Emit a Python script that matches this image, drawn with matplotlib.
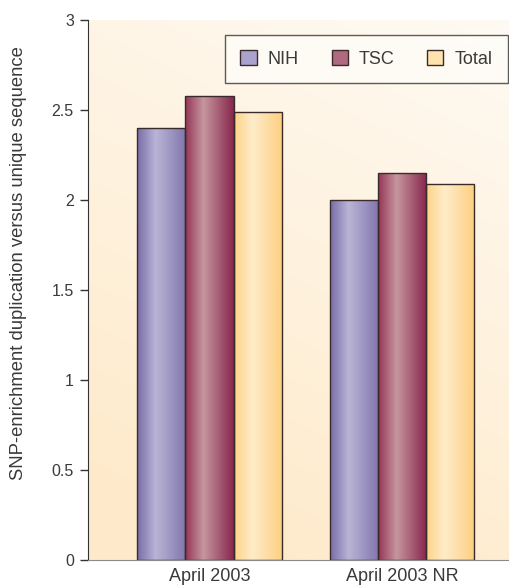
import numpy as np
import matplotlib
matplotlib.use('Agg')
from matplotlib import pyplot as plt
from matplotlib.colors import LinearSegmentedColormap
from matplotlib.patches import Patch

# data
groups = ['April 2003', 'April 2003 NR']
series = ['NIH', 'TSC', 'Total']
nih = [2.40, 2.00]
tsc = [2.58, 2.15]
total = [2.49, 2.09]
values = [nih, tsc, total]
yticks = [0, 0.5, 1, 1.5, 2, 2.5, 3]
ytick_labels = ['0', '0.5', '1', '1.5', '2', '2.5', '3']

# gradient colours per series: left edge, highlight, right edge
grad = {
    'NIH': ['#776ca6', '#bab4d6', '#8177ae'],
    'TSC': ['#953556', '#c6969f', '#87264c'],
    'Total': ['#fdd385', '#feecca', '#fdcf7e'],
}
mid = {'NIH': '#aaa3cd', 'TSC': '#b06a80', 'Total': '#fee3ae'}

plt.rcParams['font.family'] = ['Liberation Sans', 'DejaVu Sans']
txt = '#3a3a3a'

fig = plt.figure(figsize=(5.1, 5.87), dpi=100)
ax = fig.add_axes([0.172, 0.046, 0.828, 0.92])

x = np.arange(len(groups))
w = 0.25
xlim = (-0.633, 1.561)
ylim = (0, 3)

# background: peach at bottom-left fading to near white at top-right
gx, gy = np.meshgrid(np.linspace(0, 1, 200), np.linspace(0, 1, 200))
t = np.clip(0.3 * (1 - gx) + 0.8 * (1 - gy), 0, 1)
c_light = np.array([255, 250, 243]) / 255
c_dark = np.array([254, 234, 202]) / 255
bg = c_light[None, None, :] * (1 - t[..., None]) + c_dark[None, None, :] * t[..., None]
ax.imshow(bg, extent=(xlim[0], xlim[1], ylim[0], ylim[1]), origin='lower',
          aspect='auto', zorder=0, interpolation='bilinear')

strip = np.linspace(0, 1, 256).reshape(1, -1)
for i, name in enumerate(series):
    cmap = LinearSegmentedColormap.from_list(
        name, [(0, grad[name][0]), (0.38, grad[name][1]), (1, grad[name][2])])
    bars = ax.bar(x + (i - 1) * w, values[i], width=w, facecolor='none',
                  edgecolor='#3a2a2a', linewidth=1.0, zorder=3)
    for r in bars:
        im = ax.imshow(strip, cmap=cmap, aspect='auto', zorder=2,
                       extent=(r.get_x(), r.get_x() + r.get_width(), 0, r.get_height()),
                       interpolation='bilinear')
        im.set_clip_path(r)

ax.set_xlim(xlim)
ax.set_ylim(ylim)

ax.set_xticks(x)
ax.set_xticklabels(groups, fontsize=13, color=txt)
ax.tick_params(axis='x', length=0, pad=6)
ax.set_yticks(yticks)
ax.set_yticklabels(ytick_labels, fontsize=11.5, color=txt)
ax.tick_params(axis='y', length=6, width=1, color='#333333', pad=4, direction='out')

for s in ['top', 'right']:
    ax.spines[s].set_visible(False)
ax.spines['left'].set_color('#333333')
ax.spines['bottom'].set_color('#8a8a8a')
ax.spines['left'].set_zorder(5)
ax.spines['bottom'].set_zorder(5)

ax.set_ylabel('SNP-enrichment duplication versus unique sequence', fontsize=13.3,
              color=txt, va='center')
ax.yaxis.set_label_coords(-0.165, 0.55)

handles = [Patch(facecolor=mid[n], edgecolor='#3a2a2a', linewidth=1) for n in series]
leg = fig.legend(handles, series, ncol=3, loc='upper right',
                 bbox_to_anchor=(508 / 510, 1 - 35 / 587),
                 frameon=True, fancybox=False, fontsize=13, handlelength=0.9,
                 handleheight=0.9, handletextpad=0.62, columnspacing=1.8,
                 borderpad=0.85, borderaxespad=0)
leg.get_frame().set_edgecolor('#333333')
leg.get_frame().set_facecolor('#fffdf8')
leg.get_frame().set_linewidth(1)
for tx in leg.get_texts():
    tx.set_color(txt)

fig.savefig('out.png', dpi=100)
